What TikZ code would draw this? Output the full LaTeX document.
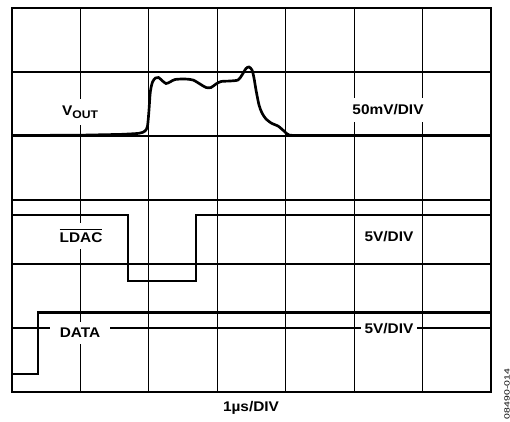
\documentclass[tikz,border=0pt]{standalone}
\usepackage{fontspec}
\setmainfont{Liberation Sans}[FakeStretch=1.1]
\newfontfamily\codefont{Liberation Sans}[FakeStretch=1.4]
\usetikzlibrary{positioning}
\tikzstyle{frame}=[line width=1.5pt,draw=black]
\tikzstyle{grid line}=[line width=0.85pt,draw=black]
\tikzstyle{trace}=[line width=2pt,draw=black,line join=miter]
\tikzstyle{div label}=[font=\fontsize{10.5}{12}\selectfont\bfseries,inner sep=0pt]
\tikzstyle{masked label}=[div label,fill=white,inner xsep=5pt,inner ysep=5pt]
\newcommand\barsignal[1]{{\setbox0\hbox{#1}\vbox{\hrule width\wd0 height0.75pt\kern1.6pt\box0}}}
\newcommand\sigsub[1]{\raisebox{-2.2pt}{\fontsize{8.3}{9}\selectfont #1}}

\begin{document}
\begin{tikzpicture}[x=0.75pt,y=-0.75pt]
\useasboundingbox (0,0) rectangle (510,421);

% graticule
\foreach \i in {1,...,6}
  \draw[grid line] ({12+\i*68.43},8) -- ({12+\i*68.43},392);
\foreach \j in {1,...,5}
  \draw[grid line] (12,{8+\j*64}) -- (491,{8+\j*64});
\draw[frame] (12,8) rectangle (491,392);

% channel labels
\node (vout) [masked label] at (80,112) {V\sigsub{OUT}};
\node (vout div) [masked label] at (388,110) {50mV/DIV};
\node (ldac) [masked label] at (81,236) {\barsignal{LDAC}};
\node (ldac div) [div label] at (389,237) {5V/DIV};
\node (data) [masked label,inner xsep=7pt] at (80,333) {DATA};
\node (data div) [masked label,inner xsep=3pt,inner ysep=3pt] at (389,329) {5V/DIV};
\node (time div) [div label] at (251,408) {1µs/DIV};
\node (code) [rotate=90,inner sep=0pt,font=\codefont\fontsize{5.6}{6}\selectfont] at (507,394) {08490-014};

% traces
\draw[trace] (12,135.5) -- (80,135.2)
  -- plot[smooth,tension=0.45] coordinates {(120,134.4) (139,133.3) (145,131) (147.5,126)
     (149,110) (150.3,92) (152.5,82) (155.5,78) (158.5,77.5) (162,80.5) (166,83.5)
     (170,82) (175,79.5) (185,79) (193,80) (200,84) (206,87.5) (211,87.5) (216,84)
     (221,81.5) (230,81) (238,80) (242,75) (246,68.5) (249,67) (252,70) (254,78)
     (256,90) (259,105) (262,113) (266,119) (272,123.5) (278,126) (284,131)
     (289,135) (300,135.5)}
  -- (491,135.5);
\draw[trace] (12,215) -| (128,281) -| (196,215) -- (491,215);
\draw[trace] (12,374) -| (38,312.7) -- (491,312.7);

\end{tikzpicture}
\end{document}
